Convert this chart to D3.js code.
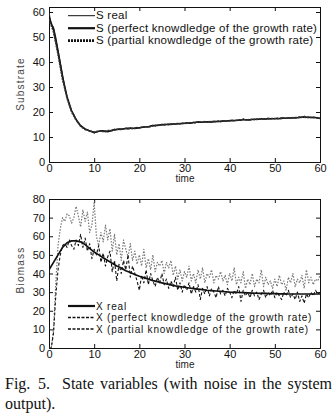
<!DOCTYPE html>
<html>
<head>
<meta charset="utf-8">
<script src="https://cdn.jsdelivr.net/npm/d3@7"></script>
<style>
  body { margin: 0; background: #fff; }
  svg { display: block; }
  .tick text { font-family: "Liberation Sans", Arial, sans-serif; font-size: 11px; fill: #111; }
  .lab { font-family: "Liberation Sans", Arial, sans-serif; font-size: 10px; fill: #444; letter-spacing: 1.2px; }
  .tijd { font-family: "Liberation Sans", Arial, sans-serif; font-size: 10px; fill: #222; }
  .leg { font-family: "Liberation Sans", Arial, sans-serif; font-size: 11.5px; fill: #111; letter-spacing: 0.25px; }
  .leg2 { font-family: "Liberation Sans", Arial, sans-serif; font-size: 10px; fill: #111; letter-spacing: 0.8px; }
  .cap { font-family: "Liberation Serif", "Times New Roman", serif; font-size: 16px; fill: #111; }
</style>
</head>
<body>
<svg width="336" height="419"></svg>
<script>
// tick labels
const tijdTicks = [0, 10, 20, 30, 40, 50, 60]
const substraatTicks = [0, 10, 20, 30, 40, 50, 60]
const biomassaTicks = [0, 10, 20, 30, 40, 50, 60, 70, 80]

// Substrate, S real (stap 0.5)
const sReal = [
  60, 55, 54, 50, 45, 40, 35, 30, 26, 23,
  20.5, 19, 17, 15.5, 14.5, 14, 13, 12.8, 12.3, 12.2,
  11.5, 12, 12.2, 12.6, 12.3, 12, 12.5, 12.2, 12.8, 13.2,
  12.9, 13.3, 13, 13.2, 13.4, 13.1, 13.5, 13.3, 13.6, 13.9,
  13.5, 14, 13.8, 14.2, 14, 14.4, 14.7, 14.3, 14.8, 14.6,
  15, 14.7, 15, 14.8, 15.2, 15, 15.1, 15.5, 15.2, 15.6,
  15.4, 15.8, 15.5, 15.4, 15.9, 15.6, 16.2, 15.8, 15.9, 16.3,
  16, 16.2, 15.9, 16.4, 16.2, 16.5, 16.1, 16.6, 16.3, 16.5,
  16.4, 16.8, 16.5, 16.7, 16.9, 16.6, 17.3, 16.8, 17, 16.7,
  17.1, 16.9, 17.2, 17, 17.4, 17.1, 17.3, 17.6, 17.2, 17.4,
  17.3, 17.6, 17.3, 17.8, 17.5, 17.4, 17.7, 17.5, 17.9, 17.6,
  17.8, 18.1, 17.7, 18.4, 17.9, 18, 17.7, 18, 17.8, 17.6,
  17.4
]
// S perfecte kennis (stap 1)
const sPerfect = [
  58, 53, 44, 34, 26, 20.5, 17, 14.5, 13.2, 12.4,
  11.8, 12.3, 12.5, 12.1, 12.7, 13, 13.2, 13.4, 13.6, 13.4,
  13.7, 14, 14.1, 14.6, 14.6, 15, 15, 15.2, 15.2, 15.3,
  15.5, 15.6, 15.8, 16, 15.9, 16.1, 16, 16.2, 16.2, 16.4,
  16.5, 16.6, 16.7, 17, 16.8, 17, 17.1, 17.2, 17.2, 17.3,
  17.3, 17.4, 17.5, 17.6, 17.6, 17.7, 17.9, 17.9, 17.8, 17.8,
  17.5
]
// S gedeeltelijke kennis (stap 1)
const sPartial = [
  57, 52, 43, 33, 25.5, 20, 16.8, 14.3, 13, 12.5,
  12, 12.4, 12.2, 12.6, 12.5, 13.1, 13, 13.5, 13.3, 13.6,
  13.6, 14.1, 14, 14.4, 14.8, 14.8, 15.1, 15, 15.3, 15.4,
  15.4, 15.7, 15.6, 16.1, 16, 16, 16.2, 16.1, 16.4, 16.3,
  16.6, 16.5, 16.8, 16.9, 16.9, 17.1, 17, 17.3, 17.1, 17.4,
  17.4, 17.3, 17.6, 17.5, 17.7, 17.8, 18, 17.8, 17.9, 17.7,
  17.4
]

// Biomass, X real (stap 1)
const xReal = [
  42, 46, 50, 54, 56.5, 57.5, 57.5, 57, 55.5, 53.5,
  51.5, 50, 48.5, 47, 45.5, 44, 43, 41.5, 40.5, 39.5,
  38.5, 37.8, 37, 36.2, 35.6, 35, 34.4, 33.9, 33.4, 33,
  32.6, 32.2, 31.9, 31.6, 31.3, 31, 30.8, 30.6, 30.4, 30.2,
  30, 29.9, 29.8, 29.7, 29.6, 29.5, 29.4, 29.3, 29.3, 29.2,
  29.2, 29.1, 29.1, 29, 29, 29, 29, 29, 29, 29,
  29
]
// X perfecte kennis (stap 0.5)
const xPerfect = [
  0, 0, 8, 28, 42, 50, 55, 56, 54, 58,
  55, 53, 58, 55, 61, 54, 59, 52, 56, 48,
  53, 50, 55, 46, 51, 44, 49, 52, 41, 47,
  36, 45, 40, 47, 42, 50, 38, 44, 40, 36,
  31, 39, 35, 42, 34, 40, 36, 33, 38, 35,
  40, 34, 37, 32, 36, 33, 38, 31, 35, 30,
  34, 31, 35, 29, 33, 30, 34, 26, 32, 29,
  33, 28, 32, 30, 27, 33, 29, 31, 28, 32,
  30, 27, 31, 29, 33, 25, 31, 28, 30, 27,
  31, 28, 30, 26, 29, 31, 27, 30, 28, 31,
  27, 30, 28, 26, 30, 28, 31, 27, 29, 26,
  30, 25, 28, 24, 29, 27, 30, 28, 31, 29,
  30
]
// X gedeeltelijke kennis (stap 0.5)
const xPartial = [
  0, 0, 10, 35, 55, 64, 70, 68, 72, 71,
  67, 70, 76, 71, 65, 74, 68, 73, 62, 66,
  78, 60, 55, 62, 57, 66, 58, 64, 52, 61,
  50, 56, 47, 58, 53, 49, 56, 47, 52, 45,
  50, 44, 53, 43, 48, 42, 50, 41, 46, 44,
  47, 40, 46, 43, 47, 39, 44, 37, 42, 36,
  41, 38, 44, 36, 40, 35, 42, 37, 43, 35,
  40, 38, 42, 35, 39, 37, 41, 36, 39, 34,
  40, 36, 43, 34, 38, 35, 41, 32, 37, 34,
  40, 33, 37, 35, 42, 33, 38, 34, 36, 32,
  37, 33, 39, 34, 36, 31, 38, 35, 40, 33,
  37, 35, 39, 32, 42, 35, 38, 34, 37, 36,
  39
]

const svg = d3.select('svg')

function maakPanel(opties) {
    const x = d3.scaleLinear().domain([0, 60]).range([49, 320])
    const y = d3.scaleLinear().domain(opties.domein).range([opties.onder, opties.boven])
    const g = svg.append('g')

    // ticks naar binnen, op alle vier kanten
    g.append('g').attr('transform', `translate(0,${opties.onder})`)
        .call(d3.axisBottom(x).tickValues(tijdTicks).tickSize(-4).tickPadding(2))
    g.append('g').attr('transform', `translate(0,${opties.boven})`)
        .call(d3.axisTop(x).tickValues(tijdTicks).tickSize(-4).tickFormat(''))
    g.append('g').attr('transform', 'translate(49,0)')
        .call(d3.axisLeft(y).tickValues(opties.ticks).tickSize(-4).tickPadding(4))
    g.append('g').attr('transform', 'translate(320,0)')
        .call(d3.axisRight(y).tickValues(opties.ticks).tickSize(-4).tickFormat(''))
    g.selectAll('.domain').attr('stroke', '#111')
    g.selectAll('.tick line').attr('stroke', '#111')

    g.append('text').attr('class', 'tijd')
        .attr('x', 185).attr('y', opties.onder + opties.tijdDy)
        .attr('text-anchor', 'middle').text('time')
    g.append('text').attr('class', 'lab')
        .attr('transform', `translate(24,${opties.labelY}) rotate(-90)`)
        .attr('text-anchor', 'middle').text(opties.label)

    const clip = 'clip' + opties.label
    svg.append('clipPath').attr('id', clip).append('rect')
        .attr('x', 49).attr('y', opties.boven).attr('width', 271).attr('height', opties.onder - opties.boven)

    const lijnen = g.append('g').attr('clip-path', `url(#${clip})`)
    opties.series.forEach(s => {
        const lijn = d3.line()
            .x((d, i) => x(i * s.stap))
            .y(d => y(d))
        lijnen.append('path')
            .datum(s.waarden)
            .attr('d', lijn)
            .attr('fill', 'none')
            .attr('stroke', s.kleur)
            .attr('stroke-width', s.dikte)
            .attr('stroke-dasharray', s.streep)
            .attr('stroke-linejoin', 'round')
    })

    // legenda
    opties.legenda.forEach((l, i) => {
        const ly = opties.legY + i * opties.legStap
        g.append('line')
            .attr('x1', 68).attr('x2', 95).attr('y1', ly).attr('y2', ly)
            .attr('stroke', '#111').attr('stroke-width', l.dikte)
            .attr('stroke-dasharray', l.streep)
        g.append('text').attr('class', opties.legKlasse)
            .attr('x', 96).attr('y', ly + 3.6).text(l.tekst)
    })
}

maakPanel({
    domein: [0, 62], ticks: substraatTicks, boven: 7, onder: 162, label: 'Substrate',
    labelY: 84, tijdDy: 20, legKlasse: 'leg',
    series: [
        { waarden: sReal, stap: 0.5, kleur: '#222', dikte: 1, streep: null },
        { waarden: sPerfect, stap: 1, kleur: '#111', dikte: 1.6, streep: null },
        { waarden: sPartial, stap: 1, kleur: '#333', dikte: 1.6, streep: '2,1' }
    ],
    legY: 15.7, legStap: 12.5,
    legenda: [
        { tekst: 'S real', dikte: 1, streep: null },
        { tekst: 'S (perfect knowdledge of the growth rate)', dikte: 2.2, streep: null },
        { tekst: 'S (partial knowdledge of the growth rate)', dikte: 2.8, streep: '2,1' }
    ]
})

maakPanel({
    domein: [0, 80], ticks: biomassaTicks, boven: 199, onder: 348, label: 'Biomass',
    labelY: 270, tijdDy: 20, legKlasse: 'leg2',
    series: [
        { waarden: xPartial, stap: 0.5, kleur: '#777', dikte: 1.2, streep: '1.5,1.5' },
        { waarden: xPerfect, stap: 0.5, kleur: '#111', dikte: 1.1, streep: '3,2' },
        { waarden: xReal, stap: 1, kleur: '#111', dikte: 1.7, streep: null }
    ],
    legY: 306, legStap: 11.5,
    legenda: [
        { tekst: 'X real', dikte: 2.2, streep: null },
        { tekst: 'X (perfect knowdledge of the growth rate)', dikte: 1.5, streep: '3,1.5' },
        { tekst: 'X (partial knowdledge of the growth rate)', dikte: 1.5, streep: '3,1.5' }
    ]
})

// onderschrift, eerste regel uitgevuld
svg.append('text').attr('class', 'cap').attr('x', 5).attr('y', 389).text('Fig.')
svg.append('text').attr('class', 'cap').attr('x', 38).attr('y', 389).text('5.')
const regel1 = svg.append('text').attr('class', 'cap')
    .attr('x', 62).attr('y', 389)
    .text('State variables (with noise in the system')
const breedte = regel1.node().getComputedTextLength()
regel1.attr('word-spacing', Math.max(0, (270 - breedte) / 6))
svg.append('text').attr('class', 'cap')
    .attr('x', 5).attr('y', 409)
    .text('output).')
</script>
</body>
</html>
